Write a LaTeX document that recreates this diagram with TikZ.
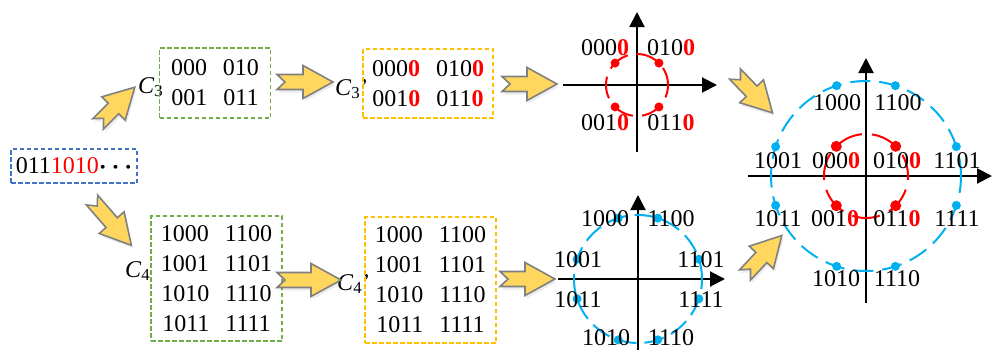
\documentclass[tikz,border=0pt]{standalone}
\usepackage{fontspec}
\setmainfont{Liberation Serif}
\usetikzlibrary{arrows.meta,calc,shadows}
\definecolor{bb}{RGB}{68,114,196}
\definecolor{gb}{RGB}{112,173,71}
\definecolor{yb}{RGB}{255,192,0}
\definecolor{cy}{RGB}{0,176,240}
\definecolor{rd}{RGB}{255,0,0}
\definecolor{ay}{RGB}{255,215,95}
\definecolor{ag}{RGB}{128,128,128}
\newcommand{\rz}[1]{#1\textcolor{rd}{\textbf{0}}}
\newcommand{\bitpair}[2]{#1\hspace{16pt}#2}
\tikzset{
    lbl/.style={font=\fontsize{24}{30}\selectfont,inner sep=0pt},
    dbox/.style={rectangle,draw=#1,line width=1.6pt,dash pattern=on 4.5pt off 2.5pt,font=\fontsize{24}{30}\selectfont,align=center,inner sep=0pt},
    axline/.style={line width=2pt,-{Triangle[length=15pt,width=15pt]}},
    ring/.style={draw=#1,line width=2pt,dash pattern=on 20pt off 8pt},
    fatbody/.style={fill=ay,draw=ag,line width=1.6pt,drop shadow={opacity=0.15,shadow xshift=1.5pt,shadow yshift=-3pt}},
    pics/fatarrow/.style={code={
        \draw[fatbody] (0,-7.5) -- (#1-30,-7.5) -- (#1-30,-16.5) -- (#1,0) -- (#1-30,16.5) -- (#1-30,7.5) -- (0,7.5) -- (8,0) -- cycle;
    }},
}
\begin{document}
\begin{tikzpicture}[x=1pt,y=-1pt]
\useasboundingbox (0,0) rectangle (993,351);
\node[dbox=bb,minimum width=126pt,minimum height=34pt] (src) at (74,166) {011\textcolor{rd}{1010}{\boldmath$\cdots$}};
\node[lbl,anchor=base west] (c3) at (138,93) {\textit{C}\textsubscript{3}};
\node[dbox=gb,minimum width=111pt,minimum height=70pt] (b3) at (215,83) {\bitpair{000}{010}\\\bitpair{001}{011}};
\node[lbl,anchor=base west] (c3p) at (335,95) {\textit{C}\textsubscript{3}'};
\node[dbox=yb,minimum width=130pt,minimum height=69pt] (b3p) at (428,83.5) {\bitpair{\rz{000}}{\rz{010}}\\\bitpair{\rz{001}}{\rz{011}}};
\node[lbl,anchor=base west] (c4) at (125,277) {\textit{C}\textsubscript{4}};
\node[dbox=gb,minimum width=131pt,minimum height=125pt] (b4) at (216.5,278.5) {\bitpair{1000}{1100}\\\bitpair{1001}{1101}\\\bitpair{1010}{1110}\\\bitpair{1011}{1111}};
\node[lbl,anchor=base west] (c4p) at (337,290) {\textit{C}\textsubscript{4}'};
\node[dbox=yb,minimum width=131pt,minimum height=126pt] (b4p) at (430.5,280) {\bitpair{1000}{1100}\\\bitpair{1001}{1101}\\\bitpair{1010}{1110}\\\bitpair{1011}{1111}};
\pic[rotate=45] at (98,124) {fatarrow=52};
\pic[rotate=-49] at (92,200) {fatarrow=60};
\pic at (277,82) {fatarrow=56};
\pic at (502,84) {fatarrow=55};
\pic at (277,280) {fatarrow=64};
\pic at (500,279) {fatarrow=55};
\pic[rotate=-46] at (735,74) {fatarrow=54};
\pic[rotate=47] at (745,275) {fatarrow=54};
\coordinate (o1) at (637,85);
\coordinate (o1w) at (563,85); \coordinate (o1e) at (717,85); \coordinate (o1s) at (637,152); \coordinate (o1n) at (637,12);
\draw[axline] (o1w) -- (o1e); \draw[axline] (o1s) -- (o1n);
\draw[ring=rd,dash pattern=on 22pt off 9pt,dash phase=4pt] (o1) circle[radius=31pt];
\foreach \a in {45,135,225,315} \fill[rd] ($(o1)+(\a:31pt)$) circle[radius=4.5pt];
\node[lbl] (p1) at (605,48) {\rz{000}};
\node[lbl] (p2) at (671,48) {\rz{010}};
\node[lbl] (p3) at (605,123) {\rz{001}};
\node[lbl] (p4) at (671,123) {\rz{011}};
\coordinate (o2) at (638,279);
\coordinate (o2w) at (558,279); \coordinate (o2e) at (725,279); \coordinate (o2s) at (638,350); \coordinate (o2n) at (638,195);
\draw[axline] (o2w) -- (o2e); \draw[axline] (o2s) -- (o2n);
\draw[ring=cy] (o2) circle[radius=64pt];
\foreach \a in {18,72,108,162,198,252,288,342} \fill[cy] ($(o2)+(\a:64pt)$) circle[radius=4.5pt];
\node[lbl] (s1) at (605,219) {1000};
\node[lbl] (s2) at (671,219) {1100};
\node[lbl] (s3) at (578,260) {1001};
\node[lbl] (s4) at (701,260) {1101};
\node[lbl] (s5) at (578,300) {1011};
\node[lbl] (s6) at (701,300) {1111};
\node[lbl] (s7) at (606,338) {1010};
\node[lbl] (s8) at (671,338) {1110};
\coordinate (o3) at (866,176);
\coordinate (o3w) at (748,176); \coordinate (o3e) at (992,176); \coordinate (o3s) at (866,303); \coordinate (o3n) at (866,58);
\draw[axline] (o3w) -- (o3e); \draw[axline] (o3s) -- (o3n);
\draw[ring=cy,dash pattern=on 20pt off 9pt] (o3) circle[radius=95pt];
\draw[ring=rd,dash pattern=on 28pt off 10pt,dash phase=6pt] (o3) circle[radius=42pt];
\foreach \a in {18,72,108,162,198,252,288,342} \fill[cy] ($(o3)+(\a:95pt)$) circle[radius=4.5pt];
\foreach \a in {45,135,225,315} \fill[rd] ($(o3)+(\a:42pt)$) circle[radius=5.5pt];
\node[lbl] (r1) at (837,103) {1000};
\node[lbl] (r2) at (898,103) {1100};
\node[lbl] (r3) at (778,161) {1001};
\node[lbl] (r4) at (836,161) {\rz{000}};
\node[lbl] (r5) at (897,161) {\rz{010}};
\node[lbl] (r6) at (957,161) {1101};
\node[lbl] (r7) at (778,219) {1011};
\node[lbl] (r8) at (835,219) {\rz{001}};
\node[lbl] (r9) at (897,219) {\rz{011}};
\node[lbl] (r10) at (957,219) {1111};
\node[lbl] (r11) at (836,279) {1010};
\node[lbl] (r12) at (897,279) {1110};
\end{tikzpicture}
\end{document}
